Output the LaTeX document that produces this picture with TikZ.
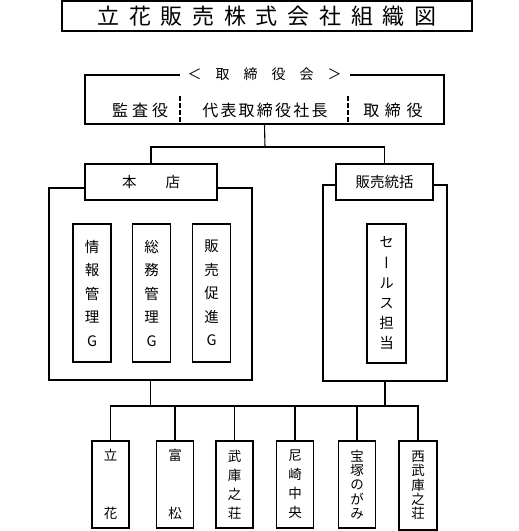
\documentclass[tikz,border=0pt]{standalone}
\usepackage{fontspec}
\setmainfont{Noto Sans CJK JP}
\newfontfamily\tatefont[RawFeature=+vert]{Noto Sans CJK JP}
\usetikzlibrary{positioning}

\begin{document}
\begin{tikzpicture}[x=1pt, y=-1pt,
  line width=1.1pt,
  box/.style={draw, fill=white, inner sep=0pt, align=center, font=\fontsize{14.5}{14.5}\selectfont},
  outer/.style={draw, inner sep=0pt},
  col/.style={box, minimum width=38, minimum height=138, font=\fontsize{14.5}{23.5}\selectfont},
  shop/.style={box, minimum width=37, minimum height=87, font=\fontsize{13.5}{#1}\selectfont},
  spaced/.style={inner sep=0pt, font=\fontsize{16}{16}\selectfont\addfontfeatures{LetterSpace=#1}},
  divider/.style={line width=2pt, dash pattern=on 5pt off 2pt}
]
  \useasboundingbox (0,0) rectangle (519,531);
  \node[box, minimum width=410, minimum height=30, font=\fontsize{22}{22}\selectfont\addfontfeatures{LetterSpace=44}] (title) at (267,16) {立花販売株式会社組織図};

  \node[box, minimum width=359, minimum height=49] (board) at (264.5,99.5) {};
  \node[fill=white, inner xsep=8pt, inner ysep=1pt, font=\fontsize{14}{14}\selectfont] (boardhead) at (board.north) {＜　取　締　役　会　＞};
  \node[spaced=25] (kansa) at (140,110) {監査役};
  \node[spaced=14] (daihyo) at (265,110) {代表取締役社長};
  \node[spaced=35] (torishimari) at (393,110) {取締役};
  \draw[divider] (180,96) -- (180,124);
  \draw[divider] (348,96) -- (348,124);

  \node[outer, minimum width=203, minimum height=192] (honfr) at (150.5,284) {};
  \node[box, minimum width=132, minimum height=36] (honten) at (151,182) {本　　店};
  \node[col] (joho) at (92,293) {情\\報\\管\\理\\G};
  \node[col] (somu) at (151.5,293) {総\\務\\管\\理\\G};
  \node[col] (hansoku) at (211.5,293) {販\\売\\促\\進\\G};

  \node[outer, minimum width=124, minimum height=196] (hanfr) at (385,283) {};
  \node[box, minimum width=97, minimum height=36] (hanbai) at (384.5,182) {販売統括};
  \node[col, minimum width=39, minimum height=139, font=\tatefont\fontsize{14.5}{20.2}\selectfont] (sales) at (386.5,293.5) {セ\\ー\\ル\\ス\\担\\当};

  \node[shop=58] (s1) at (110.5,484.5) {立\\花};
  \node[shop=58] (s2) at (175,484.5) {富\\松};
  \node[shop=19] (s3) at (234.5,484.5) {武\\庫\\之\\荘};
  \node[shop=19] (s4) at (295,484.5) {尼\\崎\\中\\央};
  \node[shop=14.3] (s5) at (357,484.5) {宝\\塚\\の\\が\\み};
  \node[shop=14.3, minimum width=38, minimum height=89] (s6) at (418,485.5) {西\\武\\庫\\之\\荘};

  \coordinate (split) at (265,147);
  \coordinate (bus) at (0,406);
  \draw (board.south) -- (split);
  \draw (honten.north) |- (split) -| (hanbai.north);
  \draw (honfr.south) -- (honfr.south |- bus);
  \draw (hanfr.south) -- (hanfr.south |- bus);
  \draw (s1.north) |- (bus -| s6.north) -- (s6.north);
  \foreach \s in {s2,s3,s4,s5} \draw (\s.north) -- (\s.north |- bus);
\end{tikzpicture}
\end{document}
